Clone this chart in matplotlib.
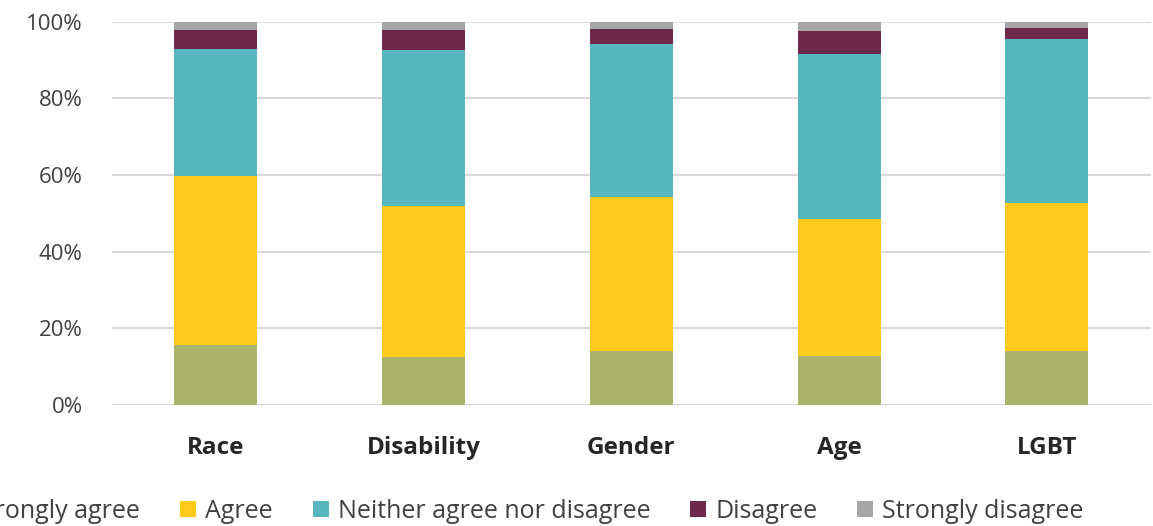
import numpy as np
import matplotlib.pyplot as plt
from matplotlib.patches import Patch

# Survey responses by category (percent of respondents)
categories = ["Race", "Disability", "Gender", "Age", "LGBT"]
strongly_agree = [15.6, 12.6, 14.0, 12.9, 14.0]
agree = [44.1, 39.3, 40.3, 35.6, 38.7]
neither = [33.2, 40.6, 39.9, 43.1, 42.8]
disagree = [4.9, 5.3, 4.0, 6.0, 2.9]
strongly_disagree = [2.2, 2.2, 1.8, 2.4, 1.6]

series_names = ["Strongly agree", "Agree", "Neither agree nor disagree",
                "Disagree", "Strongly disagree"]
colors = ["#aab56b", "#ffca1b", "#58b6c0", "#6e284a", "#a6a6a6"]

plt.rcParams['font.family'] = ['Open Sans', 'DejaVu Sans']

fig = plt.figure(figsize=(11.53, 5.26), dpi=100)
ax = fig.add_axes([0.0971, 0.23, 0.9009, 0.7287])

x = np.arange(len(categories))
bottom = np.zeros(len(categories))
for vals, name, col in zip([strongly_agree, agree, neither, disagree, strongly_disagree],
                           series_names, colors):
    ax.bar(x, vals, width=0.4, bottom=bottom, color=col, label=name, zorder=3)
    bottom += np.array(vals)

ax.set_xlim(-0.5, len(categories) - 0.5)
ax.set_ylim(0, 100)
ax.set_yticks(np.arange(0, 101, 20))
ax.set_yticklabels([f"{v}%" for v in range(0, 101, 20)])
ax.set_xticks(x)
ax.set_xticklabels(categories, fontweight="bold")

ax.grid(axis="y", color="#d9d9d9", linewidth=1.5, zorder=0)
for s in ax.spines.values():
    s.set_visible(False)

ax.tick_params(axis="y", length=0, pad=21, labelsize=16, labelcolor="#404040")
ax.tick_params(axis="x", length=0, pad=22, labelsize=17.5, labelcolor="#262626")

# legend sits low and runs past the left edge of the figure
handles = [Patch(facecolor=c, edgecolor="none") for c in colors]
fig.legend(handles, series_names, loc="center", bbox_to_anchor=(0.447, 0.028),
           ncol=5, frameon=False, fontsize=18, labelcolor="#404040",
           handlelength=0.64, handleheight=0.64, handletextpad=0.36,
           columnspacing=1.6)

fig.savefig("out.png", dpi=100)
